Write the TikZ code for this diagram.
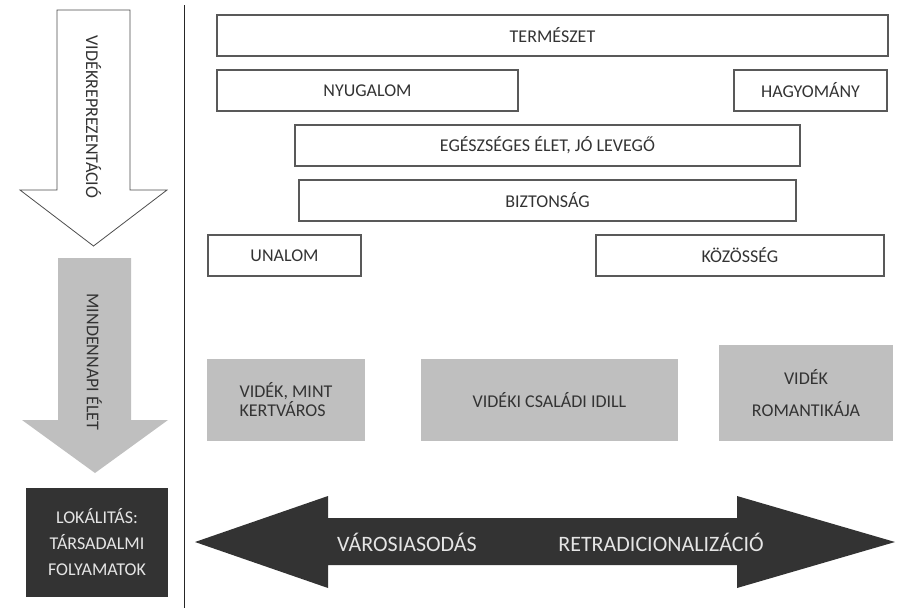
\documentclass[tikz,border=0pt]{standalone}
\usepackage{fontspec}
\setmainfont{Carlito}
\usetikzlibrary{positioning}
\begin{document}
\begin{tikzpicture}[x=1pt,y=-1pt,
	every node/.style={font=\fontsize{18}{19}\selectfont,text=black!80,inner sep=0},
	box/.style={rectangle,draw=black!65,line width=1.2pt,minimum height=41pt},
	tile/.style={rectangle,fill=black!25,align=center},
	dark/.style={fill=black!80,text=black!10,align=center}]
\useasboundingbox (0,0) rectangle (901,608);
\draw[black!85,line width=1pt] (184,5) -- (184,608);
\draw[black!70,line width=0.8pt,fill=white] (57,10) -- (130,10) -- (130,190) -- (167,190)
	-- (93.5,246) -- (20,190) -- (57,190) -- cycle;
\node[rotate=-90] (repr) at (93.5,117) {VIDÉKREPREZENTÁCIÓ};
\fill[black!25] (58,258) -- (131,258) -- (131,420) -- (168,420)
	-- (95,473) -- (22,420) -- (58,420) -- cycle;
\node[rotate=-90] (mindennap) at (94.5,362) {MINDENNAPI ÉLET};
\node[dark,minimum width=142pt,minimum height=109pt,
	font=\fontsize{18}{26}\selectfont] (lokalitas) at (97,542.5)
	{LOKÁLITÁS:\\TÁRSADALMI\\FOLYAMATOK};
\node[box,minimum width=671pt] (termeszet) at (552.5,35.5) {TERMÉSZET};
\node[box,minimum width=301pt] (nyugalom) at (367.5,90.5) {NYUGALOM};
\node[box,minimum width=153pt] (hagyomany) at (810.5,90.5) {HAGYOMÁNY};
\node[box,minimum width=505pt] (egeszseg) at (547.5,145.5) {EGÉSZSÉGES ÉLET, JÓ LEVEGŐ};
\node[box,minimum width=497pt] (biztonsag) at (547.5,200.5) {BIZTONSÁG};
\node[box,minimum width=153pt] (unalom) at (284.5,255.5) {UNALOM};
\node[box,minimum width=288pt] (kozosseg) at (740,255.5) {KÖZÖSSÉG};
\node[tile,minimum width=158pt,minimum height=82pt] (kertvaros) at (286,400) {};
\node[align=left] at (kertvaros) {VIDÉK, MINT\\KERTVÁROS};
\node[tile,minimum width=257pt,minimum height=82pt] (idill) at (549.5,400) {VIDÉKI CSALÁDI IDILL};
\node[tile,minimum width=174pt,minimum height=96pt,
	font=\fontsize{18}{32}\selectfont] (romantika) at (806,393) {VIDÉK\\ROMANTIKÁJA};
\fill[black!80] (195,542) -- (328,496) -- (328,518) -- (737,518) -- (737,496) -- (895,542)
	-- (737,588) -- (737,565) -- (328,565) -- (328,588) -- cycle;
\node[text=black!10,font=\fontsize{22}{24}\selectfont] (varos) at (407,542) {VÁROSIASODÁS};
\node[text=black!10,font=\fontsize{22}{24}\selectfont] (retrad) at (661,542) {RETRADICIONALIZÁCIÓ};
\end{tikzpicture}
\end{document}
